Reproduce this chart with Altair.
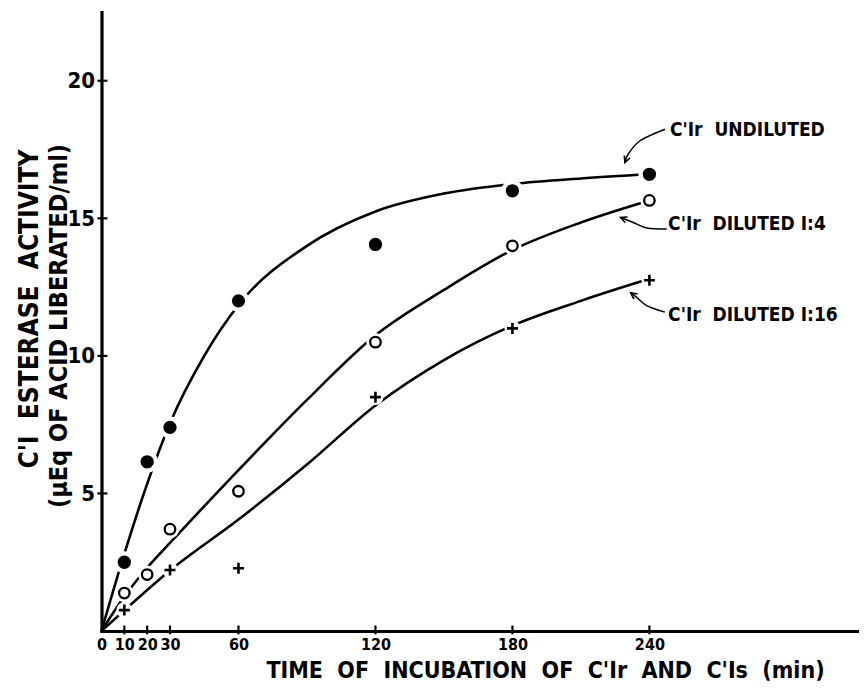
import altair as alt
import pandas as pd

# ---------------- data ----------------
undiluted_time = [10, 20, 30, 60, 120, 180, 240]
undiluted_activity = [2.5, 6.15, 7.4, 12.0, 14.05, 16.0, 16.6]

dil4_time = [10, 20, 30, 60, 120, 180, 240]
dil4_activity = [1.38, 2.05, 3.7, 5.08, 10.5, 14.0, 15.65]

dil16_time = [10, 30, 60, 120, 180, 240]
dil16_activity = [0.76, 2.22, 2.28, 8.5, 11.0, 12.75]

# hand-drawn fitted curves
undiluted_curve_time = [0, 10, 20, 30, 45, 60, 90, 120, 150, 180, 210, 240]
undiluted_curve_activity = [0, 2.8, 5.35, 7.55, 10.0, 11.85, 14.0, 15.25, 15.9, 16.25, 16.45, 16.6]

dil4_curve_time = [0, 10, 20, 30, 60, 90, 120, 150, 180, 210, 240]
dil4_curve_activity = [0, 1.25, 2.3, 3.2, 5.85, 8.4, 10.75, 12.4, 13.85, 14.85, 15.65]

dil16_curve_time = [0, 10, 30, 60, 90, 120, 150, 180, 210, 240]
dil16_curve_activity = [0, 0.75, 2.2, 4.05, 6.05, 8.2, 9.85, 11.1, 12.0, 12.8]

x_tick_values = [0, 10, 20, 30, 60, 120, 180, 240]
y_tick_values = [5, 10, 15, 20]

label_texts = ["C'Ir\u00a0 UNDILUTED", "C'Ir\u00a0 DILUTED I:4", "C'Ir\u00a0 DILUTED I:16"]
label_time = [249.0, 248.2, 248.2]
label_activity = [18.2, 14.8, 11.47]

arrow1_time = [246.8, 235.9, 230.7, 229.3]
arrow1_activity = [18.24, 17.82, 17.33, 17.03]
arrow2_time = [247.6, 238.8, 232.9, 227.4]
arrow2_activity = [14.61, 14.65, 14.85, 15.03]
arrow3_time = [246.8, 238.8, 234.4, 231.8]
arrow3_activity = [11.59, 11.83, 12.13, 12.29]
arrow_head_angle = [201, 292, 306]

x_title = "TIME\u00a0 OF\u00a0 INCUBATION\u00a0 OF\u00a0 C'Ir\u00a0 AND\u00a0 C'Is\u00a0 (min)"
y_title_1 = "C'I\u00a0 ESTERASE\u00a0 ACTIVITY"
y_title_2 = "(\u00b5Eq OF ACID LIBERATED/ml)"

# ---------------- tables ----------------
def pts(ts, vs, name):
    return pd.DataFrame({"t": ts, "v": vs, "series": name})

m_und = pts(undiluted_time, undiluted_activity, "undiluted")
m_d4 = pts(dil4_time, dil4_activity, "1:4")
m_d16 = pts(dil16_time, dil16_activity, "1:16")

curves = pd.concat([
    pts(undiluted_curve_time, undiluted_curve_activity, "undiluted"),
    pts(dil4_curve_time, dil4_curve_activity, "1:4"),
    pts(dil16_curve_time, dil16_curve_activity, "1:16"),
])

arrows = []
for k, (ts, vs) in enumerate([(arrow1_time, arrow1_activity),
                              (arrow2_time, arrow2_activity),
                              (arrow3_time, arrow3_activity)]):
    arrows.append(pd.DataFrame({"t": ts, "v": vs, "arrow": k, "o": list(range(len(ts)))}))
arrows = pd.concat(arrows)
heads = pd.DataFrame({
    "t": [arrow1_time[-1], arrow2_time[-1], arrow3_time[-1]],
    "v": [arrow1_activity[-1], arrow2_activity[-1], arrow3_activity[-1]],
    "ang": arrow_head_angle,
})
labels = pd.DataFrame({"t": label_time, "v": label_activity, "text": label_texts})

xt = pd.DataFrame({"t": x_tick_values[1:]})
xt["v0"] = -0.12
xt["v1"] = 0.2
yt = pd.DataFrame({"v": y_tick_values})
yt["t0"] = -1.8
yt["t1"] = 2.6

FONT = "DejaVu Sans Condensed"
XMAX = 331.6
YMAX = 22.5

x_axis = alt.Axis(values=x_tick_values, ticks=False, tickSize=0, grid=False,
                  domainColor="black", domainWidth=3.2, domainCap="square",
                  labelFont=FONT, labelFontSize=16, labelFontWeight="bold", labelColor="black",
                  labelPadding=5, labelFlush=False, labelOverlap=False, format="d",
                  title=x_title, titleX=443.5, titleY=39, titleBaseline="middle",
                  titleAlign="center", titleFont=FONT, titleFontSize=23,
                  titleFontWeight="bold", titleColor="black")
y_axis = alt.Axis(values=y_tick_values, ticks=False, tickSize=0, grid=False,
                  domainColor="black", domainWidth=3.2, domainCap="square",
                  labelFont=FONT, labelFontSize=22, labelFontWeight="bold", labelColor="black",
                  labelPadding=7, labelFlush=False, labelOverlap=False, format="d",
                  title=None)

X = alt.X("t:Q", scale=alt.Scale(domain=[0, XMAX], nice=False, zero=False), axis=x_axis)
Y = alt.Y("v:Q", scale=alt.Scale(domain=[0, YMAX], nice=False, zero=False), axis=y_axis)

lines = alt.Chart(curves).mark_line(color="black", strokeWidth=2.6, interpolate="monotone").encode(
    x=X, y=Y, detail="series:N")

def halo(df, size):
    return alt.Chart(df).mark_point(shape="circle", filled=True, color="white", fill="white",
                                    opacity=1, size=size).encode(x=X, y=Y)

filled = alt.Chart(m_und).mark_point(shape="circle", filled=True, color="black",
                                     opacity=1, size=177).encode(x=X, y=Y)
opened = alt.Chart(m_d4).mark_point(shape="circle", filled=False, color="black",
                                    opacity=1, size=110, strokeWidth=2.3).encode(x=X, y=Y)
plus = alt.Chart(m_d16).mark_point(shape="M-1,0L1,0M0,-1L0,1", filled=False, color="black",
                                   opacity=1, size=121, strokeWidth=2.6).encode(x=X, y=Y)

xticks = alt.Chart(xt).mark_rule(color="black", strokeWidth=2.2).encode(
    x=alt.X("t:Q"), y=alt.Y("v0:Q"), y2="v1")
yticks = alt.Chart(yt).mark_rule(color="black", strokeWidth=2.2).encode(
    y=alt.Y("v:Q"), x=alt.X("t0:Q"), x2="t1")

arrow_lines = alt.Chart(arrows).mark_line(color="black", strokeWidth=1.5, interpolate="cardinal").encode(
    x=X, y=Y, detail="arrow:N", order="o:Q")
arrow_heads = alt.Chart(heads).mark_point(shape="M-0.7,1.4L0,0L0.7,1.4", filled=False,
                                          color="black", opacity=1, size=81, strokeWidth=1.6).encode(
    x=X, y=Y, angle=alt.Angle("ang:Q", scale=None))

label_marks = alt.Chart(labels).mark_text(align="left", baseline="middle", font=FONT,
                                          fontSize=19, fontWeight="bold", color="black").encode(
    x=X, y=Y, text="text:N")

yt1 = alt.Chart(pd.DataFrame({"line": [y_title_1]})).mark_text(
    angle=270, align="center", baseline="middle", font=FONT, fontSize=26, fontWeight="bold",
    color="black").encode(text="line:N", x=alt.value(-71.5), y=alt.value(297))
yt2 = alt.Chart(pd.DataFrame({"line": [y_title_2]})).mark_text(
    angle=270, align="center", baseline="middle", font=FONT, fontSize=25, fontWeight="bold",
    color="black").encode(text="line:N", x=alt.value(-43), y=alt.value(314))

chart = alt.layer(
    lines,
    halo(m_und, 480), halo(m_d4, 330), halo(m_d16, 250),
    filled, opened, plus,
    xticks, yticks,
    arrow_lines, arrow_heads, label_marks,
    yt1, yt2,
).properties(
    width=757, height=619,
    padding={"left": 93.5, "top": 4, "right": 0, "bottom": 53},
    autosize=alt.AutoSizeParams(type="none"),
    background="white",
).configure_view(stroke=None)

chart.save("out.html", embed_options={"renderer": "svg", "actions": False})
